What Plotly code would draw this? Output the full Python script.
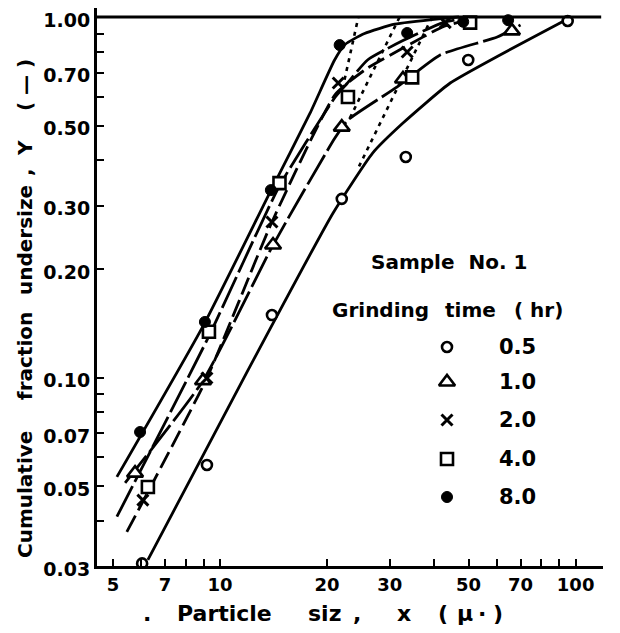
import math
import plotly.graph_objects as go

# ---------------- data ----------------
# measured points (particle size x [micron], cumulative fraction undersize Y)
x_05 = [6.04, 9.19, 14.0, 22.0, 33.3, 49.9, 95.0]
y_05 = [0.0305, 0.0572, 0.149, 0.313, 0.409, 0.76, 0.975]
x_10 = [5.77, 8.96, 14.1, 22.0, 32.7, 66.2]
y_10 = [0.0543, 0.098, 0.233, 0.495, 0.673, 0.915]
x_20 = [6.07, 9.19, 14.0, 21.5, 33.6, 43.0]
y_20 = [0.0457, 0.0997, 0.270, 0.656, 0.80, 0.965]
x_40 = [6.27, 9.31, 14.7, 22.9, 34.7, 50.5]
y_40 = [0.0497, 0.134, 0.346, 0.60, 0.68, 0.965]
x_80 = [5.96, 9.07, 13.9, 21.7, 33.6, 48.3, 64.6]
y_80 = [0.0706, 0.1426, 0.331, 0.836, 0.903, 0.97, 0.98]

# hand-drawn fitted curves
cx_05 = [6.27, 12.0, 20.8, 26.9, 32.7, 44.4, 61.3, 90.4, 96.0]
cy_05 = [0.0312, 0.105, 0.286, 0.42, 0.508, 0.656, 0.785, 0.962, 0.99]
cx_10 = [5.41, 8.96, 14.1, 21.0, 22.9, 31.5, 41.6, 60.2, 70.0]
cy_10 = [0.051, 0.098, 0.233, 0.46, 0.518, 0.64, 0.785, 0.88, 0.95]
cx_20 = [5.47, 9.2, 14.0, 21.1, 25.9, 32.7, 42.4, 52.0]
cy_20 = [0.0373, 0.10, 0.27, 0.61, 0.72, 0.82, 0.94, 0.99]
cx_40 = [5.13, 9.3, 14.7, 21.1, 22.8, 26.0, 32.7, 42.4, 50.0]
cy_40 = [0.0411, 0.13, 0.34, 0.60, 0.655, 0.76, 0.86, 0.965, 0.995]
cx_80 = [5.13, 9.0, 13.9, 17.9, 21.0, 22.5, 25.5, 31.0, 42.0, 47.0]
cy_80 = [0.053, 0.14, 0.33, 0.54, 0.76, 0.84, 0.90, 0.955, 0.99, 1.0]

# dotted lines
dx_a = [22.4, 24.5]
dy_a = [0.67, 1.0]
dx_b = [23.2, 32.0]
dy_b = [0.525, 1.0]
dx_c = [24.6, 39.5]
dy_c = [0.385, 1.0]

x_tickvals = [5, 6, 7, 8, 9, 10, 20, 30, 40, 50, 60, 70, 80, 90, 100]
x_ticktext = ["5", "", "7", "", "", "10", "20", "30", "", "50", "", "70", "", "", "100"]
y_tickvals = [0.03, 0.04, 0.05, 0.06, 0.07, 0.08, 0.09, 0.1, 0.2, 0.3, 0.4, 0.5,
              0.6, 0.7, 0.8, 0.9, 1.0]
y_ticktext = ["0.03", "", "0.05", "", "0.07", "", "", "0.10", "0.20", "0.30", "",
              "0.50", "", "0.70", "", "", "1.00"]

legend_labels = ["0.5", "1.0", "2.0", "4.0", "8.0"]

# ---------------- figure ----------------
W, H = 620, 633
OFF = 8                      # page body margin offset of the plot div
L, R, T, B = 89, 25, 0, 75
PW, PH = W - L - R, H - T - B
FONT = "DejaVu Sans"
NB = "\u00a0"
Y_PX_PER_DEC = 360.5
y_top = math.log10(0.03) + PH / Y_PX_PER_DEC

def fx(px):
    return (px - OFF - L) / PW

def fy(py):
    return (H - B - (py - OFF)) / PH

fig = go.Figure()

curve_styles = [
    (cx_05, cy_05, "solid"),
    (cx_10, cy_10, "34px,5px"),
    (cx_20, cy_20, "18px,6px"),
    (cx_40, cy_40, "34px,5px"),
    (cx_80, cy_80, "solid"),
]
for cx, cy, dash in curve_styles:
    fig.add_trace(go.Scatter(x=cx, y=cy, mode="lines",
                             line=dict(color="black", width=2.8, dash=dash,
                                       shape="spline", smoothing=0.5),
                             showlegend=False, hoverinfo="skip"))

for dx, dy in [(dx_a, dy_a), (dx_b, dy_b), (dx_c, dy_c)]:
    fig.add_trace(go.Scatter(x=dx, y=dy, mode="lines",
                             line=dict(color="black", width=2.6, dash="4px,5px"),
                             showlegend=False, hoverinfo="skip"))

marker_styles = [
    dict(symbol="circle", size=10, color="white", line=dict(color="black", width=2.6)),
    dict(symbol="triangle-up", size=14, color="white", line=dict(color="black", width=2.6)),
    dict(symbol="x-thin", size=11, color="black", line=dict(color="black", width=3)),
    dict(symbol="square", size=12, color="white", line=dict(color="black", width=2.6)),
    dict(symbol="circle", size=11, color="black", line=dict(color="black", width=1)),
]
series = [(x_05, y_05), (x_10, y_10), (x_20, y_20), (x_40, y_40), (x_80, y_80)]
for (xs, ys), ms in zip(series, marker_styles):
    fig.add_trace(go.Scatter(x=xs, y=ys, mode="markers", marker=ms,
                             showlegend=False, hoverinfo="skip"))

# legend swatches on an overlay axis in plot-area fractions
leg_rows_px = [347, 382, 420, 459, 497]
for ms, py in zip(marker_styles, leg_rows_px):
    fig.add_trace(go.Scatter(x=[fx(447)], y=[fy(py)], mode="markers", marker=ms,
                             xaxis="x2", yaxis="y2", showlegend=False,
                             hoverinfo="skip"))

annotations = []
def txt(text, px, py, size=17, angle=0):
    annotations.append(dict(text=text, x=fx(px), y=fy(py), xref="paper", yref="paper",
                            showarrow=False, textangle=angle,
                            font=dict(family=FONT, size=size, color="black", weight="bold"),
                            xanchor="center", yanchor="middle"))

# legend block
txt("Sample" + NB * 2 + "No." + NB + "1", 449, 262, 20)
txt("Grinding", 380, 310, 20)
txt("time", 470, 310, 20)
txt("(" + NB + "hr)", 538, 310, 20)
for lab, py in zip(legend_labels, leg_rows_px):
    txt(lab, 517, py, 21)

# x-axis title, word by word
for w, px in [(".", 147), ("Particle", 224), ("siz", 324), (",", 357), ("x", 404),
              ("(", 443), ("\u00b5", 465), ("\u00b7", 482), (")", 498)]:
    txt(w, px, 613, 22)

# y-axis title, word by word (rotated)
for w, py in [("Cumulative", 495), ("fraction", 356), ("undersize", 240), (",", 172),
              ("Y", 148), ("(" + NB + "\u2014" + NB + ")", 85)]:
    txt(w, 25, py, 20, -90)

fig.update_layout(
    width=W, height=H,
    margin=dict(l=L, r=R, t=T, b=B),
    paper_bgcolor="white", plot_bgcolor="white",
    showlegend=False,
    annotations=annotations,
    shapes=[dict(type="line", xref="x", yref="y", x0=4.51, x1=118, y0=1.0, y1=1.0,
                 line=dict(color="black", width=3))],
    xaxis=dict(type="log", range=[math.log10(4.51), math.log10(119.4)],
               showline=True, linecolor="black", linewidth=3, mirror=False,
               ticks="inside", ticklen=7, tickwidth=2, tickcolor="black",
               tickvals=x_tickvals, ticktext=x_ticktext, automargin=False,
               ticklabeloverflow="allow",
               tickfont=dict(family=FONT, size=18, color="black", weight="bold"),
               showgrid=False, zeroline=False),
    yaxis=dict(type="log", range=[math.log10(0.03), y_top],
               showline=True, linecolor="black", linewidth=3, mirror=False,
               ticks="inside", ticklen=7, tickwidth=2, tickcolor="black",
               tickvals=y_tickvals, ticktext=y_ticktext, automargin=False,
               ticklabeloverflow="allow", ticklabelshift=3,
               tickfont=dict(family=FONT, size=19, color="black", weight="bold"),
               showgrid=False, zeroline=False),
    xaxis2=dict(overlaying="x", range=[0, 1], visible=False, anchor="y2",
                automargin=False),
    yaxis2=dict(overlaying="y", range=[0, 1], visible=False, anchor="x2",
                automargin=False),
)

fig.write_html("out.html")
